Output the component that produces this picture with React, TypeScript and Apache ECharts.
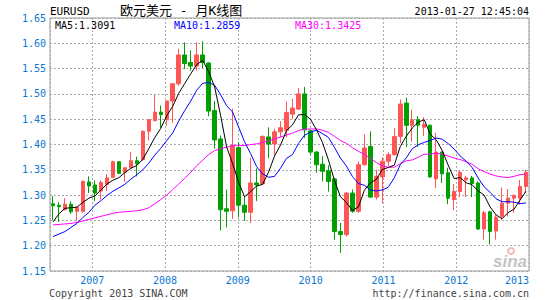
import React, { useEffect, useRef } from 'react';
import * as echarts from 'echarts';

// ---------- data (monthly EURUSD, 2006-06 .. 2013-01) ----------
const startYear = 2006;
const startMonth = 6;
const monthCount = 80;
const months: string[] = Array.from({ length: monthCount }, (_, i) => {
  const m = startMonth - 1 + i;
  const y = startYear + Math.floor(m / 12);
  return `${y}-${String((m % 12) + 1).padStart(2, '0')}`;
});

const opens = [
  1.283, 1.280, 1.271, 1.282, 1.268, 1.268, 1.326, 1.320, 1.308, 1.321,
  1.335, 1.366, 1.345, 1.354, 1.368, 1.370, 1.426, 1.447, 1.464, 1.449,
  1.486, 1.520, 1.577, 1.562, 1.555, 1.577, 1.561, 1.467, 1.411, 1.273,
  1.269, 1.394, 1.280, 1.266, 1.324, 1.322, 1.415, 1.401, 1.425, 1.428,
  1.460, 1.470, 1.500, 1.427, 1.385, 1.361, 1.348, 1.332, 1.228, 1.222,
  1.304, 1.268, 1.360, 1.396, 1.296, 1.336, 1.367, 1.380, 1.416, 1.482,
  1.438, 1.449, 1.434, 1.438, 1.332, 1.385, 1.344, 1.291, 1.307, 1.330,
  1.334, 1.324, 1.233, 1.267, 1.229, 1.258, 1.284, 1.294, 1.294, 1.317,
];
const closes = [
  1.279, 1.277, 1.282, 1.267, 1.276, 1.327, 1.318, 1.304, 1.325, 1.334,
  1.366, 1.343, 1.354, 1.368, 1.362, 1.426, 1.449, 1.464, 1.459, 1.486,
  1.520, 1.577, 1.560, 1.555, 1.577, 1.562, 1.466, 1.409, 1.271, 1.268,
  1.398, 1.280, 1.266, 1.324, 1.320, 1.416, 1.401, 1.425, 1.433, 1.463,
  1.472, 1.500, 1.429, 1.385, 1.360, 1.347, 1.327, 1.228, 1.222, 1.304,
  1.268, 1.360, 1.393, 1.296, 1.337, 1.367, 1.380, 1.416, 1.480, 1.438,
  1.449, 1.438, 1.440, 1.336, 1.385, 1.342, 1.294, 1.307, 1.345, 1.334,
  1.323, 1.233, 1.265, 1.228, 1.256, 1.284, 1.294, 1.299, 1.317, 1.345,
];
const lows = [
  1.250, 1.247, 1.270, 1.263, 1.248, 1.265, 1.304, 1.288, 1.291, 1.308,
  1.335, 1.342, 1.326, 1.352, 1.337, 1.368, 1.408, 1.447, 1.433, 1.437,
  1.443, 1.516, 1.549, 1.546, 1.546, 1.551, 1.456, 1.392, 1.230, 1.236,
  1.253, 1.256, 1.249, 1.245, 1.288, 1.320, 1.373, 1.380, 1.414, 1.414,
  1.450, 1.468, 1.413, 1.380, 1.344, 1.327, 1.307, 1.212, 1.186, 1.218,
  1.265, 1.265, 1.358, 1.294, 1.291, 1.284, 1.357, 1.378, 1.403, 1.395,
  1.406, 1.395, 1.417, 1.334, 1.314, 1.324, 1.282, 1.270, 1.296, 1.296,
  1.296, 1.231, 1.212, 1.202, 1.212, 1.251, 1.258, 1.265, 1.281, 1.304,
];
const highs = [
  1.298, 1.286, 1.294, 1.288, 1.277, 1.329, 1.337, 1.329, 1.329, 1.342,
  1.368, 1.367, 1.355, 1.385, 1.376, 1.428, 1.449, 1.498, 1.477, 1.487,
  1.521, 1.589, 1.602, 1.586, 1.602, 1.604, 1.563, 1.486, 1.418, 1.311,
  1.471, 1.405, 1.298, 1.373, 1.353, 1.418, 1.434, 1.431, 1.446, 1.485,
  1.490, 1.512, 1.514, 1.430, 1.387, 1.377, 1.359, 1.334, 1.245, 1.306,
  1.311, 1.366, 1.420, 1.426, 1.350, 1.375, 1.385, 1.433, 1.489, 1.493,
  1.469, 1.456, 1.454, 1.440, 1.423, 1.386, 1.354, 1.322, 1.348, 1.338,
  1.338, 1.327, 1.269, 1.269, 1.261, 1.315, 1.312, 1.302, 1.330, 1.350,
];

// moving-average values before the shown window has enough months
const ma5Lead = [1.247, 1.263, 1.274, 1.275];
const ma10Lead = [1.218, 1.223, 1.228, 1.236, 1.244, 1.256, 1.266, 1.280, 1.289];
const ma30Lead = [
  1.241, 1.242, 1.243, 1.244, 1.246, 1.249, 1.252, 1.255, 1.258, 1.261,
  1.264, 1.266, 1.267, 1.268, 1.269, 1.271, 1.275, 1.283, 1.291, 1.300,
  1.311, 1.322, 1.333, 1.345, 1.358, 1.369, 1.380, 1.388, 1.392,
];

const legendTexts = ['MA5:1.3091', 'MA10:1.2859', 'MA30:1.3425'];
const titleSymbol = 'EURUSD';
const titleText = '欧元美元 - 月K线图';
const stampText = '2013-01-27 12:45:04';
const copyrightText = 'Copyright 2013 SINA.COM';
const urlText = 'http://finance.sina.com.cn';

function movingAverage(n: number, lead: number[]): number[] {
  return closes.map((_, i) => {
    if (i < n - 1) return lead[i];
    let s = 0;
    for (let k = i - n + 1; k <= i; k++) s += closes[k];
    return +(s / n).toFixed(4);
  });
}

const BLUE = '#0a78d2';
const MONO = '"DejaVu Sans Mono", "Liberation Mono", monospace';
const UP = '#ff5555';
const DOWN = '#00a000';

export default function App() {
  const ref = useRef<HTMLDivElement>(null);
  useEffect(() => {
    if (!ref.current) return;
    const chart = echarts.init(ref.current, null, { renderer: 'svg' });
    const kData = opens.map((o, i) => [o, closes[i], lows[i], highs[i]]);
    const grid = { left: 50, top: 18, width: 479, height: 253 };
    const dotted = { color: '#aaaaaa', type: [2, 2], width: 1 };
    chart.setOption({
      animation: false,
      backgroundColor: '#ffffff',
      grid: { ...grid, show: true, borderColor: '#999999', borderWidth: 1, backgroundColor: 'transparent' },
      xAxis: [
        {
          type: 'category',
          data: months,
          boundaryGap: true,
          axisLine: { show: false },
          axisTick: { show: false },
          axisLabel: { show: false },
          splitLine: { show: false },
        },
        {
          type: 'value',
          min: 2006.419,
          max: 2013,
          splitNumber: 6,
          position: 'bottom',
          axisLine: { show: false },
          axisTick: { show: false },
          splitLine: { show: true, lineStyle: dotted },
          axisLabel: {
            color: BLUE,
            fontFamily: MONO,
            fontSize: 10,
            margin: 4,
            showMinLabel: false,
            alignMaxLabel: 'right',
            formatter: (v: number) => (Math.abs(v - Math.round(v)) < 1e-6 ? String(Math.round(v)) : ''),
          },
        },
      ],
      yAxis: {
        type: 'value',
        min: 1.15,
        max: 1.65,
        interval: 0.05,
        axisLine: { show: false },
        axisTick: { show: false },
        splitLine: { show: true, lineStyle: dotted },
        axisLabel: {
          color: BLUE,
          fontFamily: MONO,
          fontSize: 10,
          margin: 4,
          formatter: (v: number) => v.toFixed(2),
        },
      },
      series: [
        {
          type: 'candlestick',
          data: kData,
          barWidth: 4,
          itemStyle: {
            color: UP,
            color0: DOWN,
            borderColor: UP,
            borderColor0: DOWN,
            borderWidth: 1,
          },
          z: 3,
        },
        {
          type: 'line',
          data: movingAverage(30, ma30Lead),
          symbol: 'none',
          lineStyle: { color: '#ff00ff', width: 1 },
          z: 4,
        },
        {
          type: 'line',
          data: movingAverage(10, ma10Lead),
          symbol: 'none',
          lineStyle: { color: '#0000ff', width: 1 },
          z: 5,
        },
        {
          type: 'line',
          data: movingAverage(5, ma5Lead),
          symbol: 'none',
          lineStyle: { color: '#000000', width: 1 },
          z: 6,
        },
      ],
      graphic: [
        {
          type: 'text', x: 50, y: 11, z: 10,
          style: { text: titleSymbol, fill: '#000', fontFamily: MONO, fontSize: 11, textVerticalAlign: 'middle' },
        },
        {
          type: 'text', x: 120, y: 10, z: 10,
          style: {
            text: titleText, fill: '#000',
            fontFamily: '"DejaVu Sans Mono", "Noto Sans CJK SC", sans-serif',
            fontSize: 13, textVerticalAlign: 'middle',
          },
        },
        {
          type: 'text', x: 529, y: 11, z: 10,
          style: { text: stampText, fill: '#000', fontFamily: MONO, fontSize: 10, textAlign: 'right', textVerticalAlign: 'middle' },
        },
        {
          type: 'text', x: 55, y: 25, z: 10,
          style: { text: legendTexts[0], fill: '#000000', fontFamily: MONO, fontSize: 10, textVerticalAlign: 'middle' },
        },
        {
          type: 'text', x: 174, y: 25, z: 10,
          style: { text: legendTexts[1], fill: '#0000ff', fontFamily: MONO, fontSize: 10, textVerticalAlign: 'middle' },
        },
        {
          type: 'text', x: 295, y: 25, z: 10,
          style: { text: legendTexts[2], fill: '#ff00ff', fontFamily: MONO, fontSize: 10, textVerticalAlign: 'middle' },
        },
        {
          type: 'text', x: 49, y: 293, z: 10,
          style: { text: copyrightText, fill: '#444', fontFamily: MONO, fontSize: 10, textVerticalAlign: 'middle' },
        },
        {
          type: 'text', x: 529, y: 293, z: 10,
          style: { text: urlText, fill: '#444', fontFamily: MONO, fontSize: 10, textAlign: 'right', textVerticalAlign: 'middle' },
        },
        {
          type: 'ring', z: 1, shape: { cx: 511, cy: 251, r: 4, r0: 2 },
          style: { fill: '#f4b8b8' },
        },
        {
          type: 'text', x: 527, y: 261, z: 1,
          style: {
            text: 'sina', fill: '#c4c4c4', fontFamily: 'Liberation Sans, Arial, sans-serif',
            fontSize: 17, fontWeight: 'bold', fontStyle: 'italic', textAlign: 'right', textVerticalAlign: 'middle',
          },
        },
      ],
    });
    return () => chart.dispose();
  }, []);
  return <div ref={ref} style={{ position: 'fixed', left: 0, top: 0, width: 545, height: 300 }} />;
}
